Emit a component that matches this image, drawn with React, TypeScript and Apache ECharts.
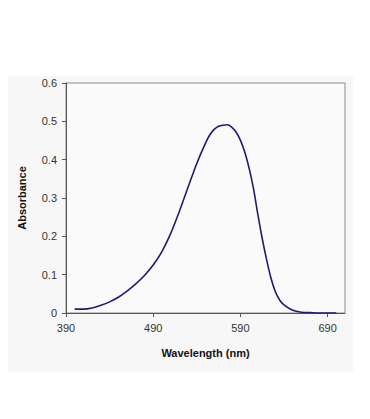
import React, { useEffect, useRef } from "react";
import * as echarts from "echarts";

const wavelengths = [400, 410, 420, 430, 440, 450, 460, 470, 480, 490, 500, 510, 520, 530, 540, 550, 555, 560, 565, 570, 575, 580, 585, 590, 595, 600, 605, 610, 615, 620, 625, 630, 635, 640, 650, 660, 670, 680, 690, 700];
const absorbance = [0.010, 0.010, 0.013, 0.020, 0.029, 0.041, 0.057, 0.076, 0.098, 0.125, 0.160, 0.207, 0.265, 0.328, 0.390, 0.443, 0.465, 0.479, 0.487, 0.490, 0.491, 0.485, 0.472, 0.451, 0.420, 0.378, 0.325, 0.258, 0.195, 0.140, 0.092, 0.056, 0.034, 0.021, 0.007, 0.002, 0.001, 0.000, 0.000, 0.000];
const xTicks = [390, 490, 590, 690];
const yTicks = [0, 0.1, 0.2, 0.3, 0.4, 0.5, 0.6];

export default function App() {
  const ref = useRef<HTMLDivElement>(null);
  useEffect(() => {
    if (!ref.current) return;
    const chart = echarts.init(ref.current, null, { renderer: "svg" });
    const font = "'Liberation Sans', Arial, sans-serif";
    chart.setOption({
      animation: false,
      backgroundColor: "#ffffff",
      graphic: [
        {
          type: "rect",
          z: -10,
          silent: true,
          shape: { x: 8, y: 76, width: 345, height: 296 },
          style: { fill: "#f7f7f7" },
        },
      ],
      grid: {
        left: 66,
        top: 83,
        width: 279,
        height: 230,
        show: true,
        backgroundColor: "#fafafa",
        borderColor: "#8a8a8a",
        borderWidth: 1,
      },
      xAxis: {
        type: "value",
        min: 390,
        max: 710,
        interval: 100,
        name: "Wavelength (nm)",
        nameLocation: "middle",
        nameGap: 34,
        nameTextStyle: { fontFamily: font, fontSize: 11, fontWeight: "bold", color: "#111" },
        axisLine: { show: true, onZero: false, lineStyle: { color: "#555", width: 1 } },
        axisTick: { show: true, inside: false, length: 4, lineStyle: { color: "#555" } },
        splitLine: { show: false },
        axisLabel: {
          fontFamily: font,
          fontSize: 11,
          color: "#333",
          margin: 9,
          showMaxLabel: false,
          formatter: (v: number) => (xTicks.includes(v) ? String(v) : ""),
        },
      },
      yAxis: {
        type: "value",
        min: 0,
        max: 0.6,
        interval: 0.1,
        name: "Absorbance",
        nameLocation: "middle",
        nameGap: 39,
        nameTextStyle: { fontFamily: font, fontSize: 11, fontWeight: "bold", color: "#111" },
        axisLine: { show: true, lineStyle: { color: "#555", width: 1 } },
        axisTick: { show: true, inside: false, length: 4, lineStyle: { color: "#555" } },
        splitLine: { show: false },
        axisLabel: {
          fontFamily: font,
          fontSize: 11,
          color: "#333",
          margin: 9,
          formatter: (v: number) => {
            const t = yTicks.find((y) => Math.abs(y - v) < 1e-9);
            return t === undefined ? "" : t === 0 ? "0" : String(Number(t.toFixed(1)));
          },
        },
      },
      series: [
        {
          type: "line",
          data: wavelengths.map((w, i) => [w, absorbance[i]]),
          smooth: 0.3,
          showSymbol: false,
          lineStyle: { color: "#1c1c70", width: 1.6 },
        },
      ],
    });
    return () => chart.dispose();
  }, []);
  return (
    <div
      ref={ref}
      style={{ position: "absolute", left: 0, top: 0, width: 370, height: 419 }}
    />
  );
}
